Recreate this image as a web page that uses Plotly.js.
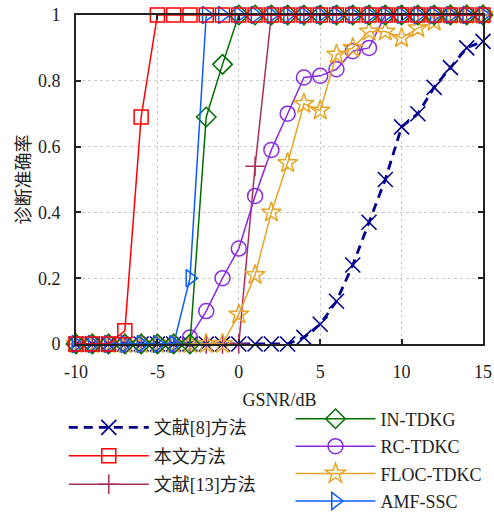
<!DOCTYPE html>
<html><head><meta charset="utf-8">
<script src="https://cdn.plot.ly/plotly-3.0.1.min.js"></script>
<style>body{margin:0;padding:0;background:#fff}#chart{width:494px;height:513px}</style>
</head><body><div id="chart"></div>
<script>
const gsnr = [-10,-9,-8,-7,-6,-5,-4,-3,-2,-1,0,1,2,3,4,5,6,7,8,9,10,11,12,13,14,15];
const ref8 = [0,0,0,0,0,0,0,0,0,0,0,0,0,0,0.02,0.06,0.13,0.24,0.37,0.50,0.66,0.70,0.78,0.84,0.90,0.92];
const ours = [0,0,0,0.04,0.69,1,1,1,1,1,1,1,1,1,1,1,1,1,1,1,1,1,1,1,1,1];
const ref13 = [0,0,0,0,0,0,0,0,0,0,0,0.54,1,1,1,1,1,1,1,1,1,1,1,1,1,1];
const inTdkg = [0,0,0,0,0,0,0,0,0.69,0.85,1,1,1,1,1,1,1,1,1,1,1,1,1,1,1,1];
const rcTdkc = [0,0,0,0,0,0,0,0.02,0.10,0.20,0.29,0.45,0.59,0.70,0.81,0.815,0.835,0.89,0.90,1,1,1,1,1,1,1];
const flocTdkc = [0,0,0,0,0,0,0,0,0,0,0.09,0.21,0.40,0.55,0.73,0.71,0.88,0.90,0.95,0.95,0.93,0.96,0.98,1,1,1];
const amfSsc = [0,0,0,0,0,0,0,0.20,1,1,1,1,1,1,1,1,1,1,1,1,1,1,1,1,1,1];
const seriesNames = ['文献[8]方法','本文方法','文献[13]方法','IN-TDKG','RC-TDKC','FLOC-TDKC','AMF-SSC'];
const xTickVals = [-10,-5,0,5,10,15];
const xTickText = ['-10','-5','0','5','10','15'];
const yTickVals = [0,0.2,0.4,0.6,0.8,1];
const yTickText = ['0','0.2','0.4','0.6','0.8','1'];

function tr(y, name, color, symbol, size, opts) {
  opts = opts || {};
  return Object.assign({
    x: gsnr, y: y, name: name, legendgroup: name, type: 'scatter', mode: 'lines+markers', cliponaxis: false,
    line: {color: color, width: opts.lw || 1.5, dash: opts.dash || 'solid'},
    marker: {symbol: symbol, size: size, color: color, line: {color: color, width: opts.mw || 1.5}}
  }, opts.extra || {});
}
const traces = [
  tr(ref8, seriesNames[0], '#00008B', 'x-thin-open', 15, {lw: 2.8, dash: '9px,6px', mw: 1.6, extra: {legend: 'legend', legendrank: 1}}),
  tr(ref13, seriesNames[2], '#A8305E', 'cross-thin-open', 14, {extra: {legend: 'legend', legendrank: 3}}),
  tr(rcTdkc, seriesNames[4], '#8A2BE2', 'circle-open', 15, {extra: {legend: 'legend2', legendrank: 5}}),
  tr(flocTdkc, seriesNames[5], '#E6A526', 'star-open', 15, {extra: {legend: 'legend2', legendrank: 6}}),
  tr(inTdkg, seriesNames[3], '#007000', 'diamond-open', 15, {extra: {legend: 'legend2', legendrank: 4}}),
  tr(amfSsc, seriesNames[6], '#0A5CFF', 'triangle-right-open', 15, {extra: {legend: 'legend2', legendrank: 7}}),
  tr(ours, seriesNames[1], '#FF0000', 'square-open', 14, {extra: {legend: 'legend', legendrank: 2}})
];
const fontFam = '"Liberation Serif", "Times New Roman", "Noto Sans CJK SC", serif';
const layout = {
  width: 494, height: 513,
  margin: {l: 76, r: 11, t: 15, b: 169, autoexpand: false},
  paper_bgcolor: '#fff', plot_bgcolor: '#fff',
  font: {family: fontFam, size: 18, color: '#222'},
  showlegend: true,
  xaxis: {
    range: [-10, 15], tickmode: 'array', tickvals: xTickVals, ticktext: xTickText,
    showline: true, linecolor: '#222', linewidth: 2, mirror: 'ticks',
    ticks: 'inside', ticklen: 5, tickwidth: 2, tickcolor: '#222',
    showgrid: true, gridcolor: '#cccccc', griddash: 'dot', gridwidth: 1,
    zeroline: false, tickfont: {size: 18}, ticklabelstandoff: 10,
    title: {text: 'GSNR/dB', font: {size: 18}, standoff: 13}
  },
  yaxis: {
    range: [0, 1], tickmode: 'array', tickvals: yTickVals, ticktext: yTickText,
    showline: true, linecolor: '#222', linewidth: 2, mirror: 'ticks',
    ticks: 'inside', ticklen: 5, tickwidth: 2, tickcolor: '#222',
    showgrid: true, gridcolor: '#cccccc', griddash: 'dot', gridwidth: 1,
    zeroline: false, tickfont: {size: 18}, ticklabelstandoff: 10,
    title: {text: '诊断准确率', font: {size: 18, family: '"Noto Sans CJK SC", sans-serif'}, standoff: 3}
  },
  legend: {
    x: -0.03, y: -0.198, xanchor: 'left', yanchor: 'top', orientation: 'v',
    bgcolor: 'rgba(0,0,0,0)', itemwidth: 80, tracegroupgap: 2, traceorder: 'grouped',
    font: {size: 18, family: '"Liberation Serif", "Noto Sans CJK SC", serif'}
  },
  legend2: {
    x: 0.527, y: -0.172, xanchor: 'left', yanchor: 'top', orientation: 'v',
    bgcolor: 'rgba(0,0,0,0)', itemwidth: 80, tracegroupgap: 1, traceorder: 'grouped',
    font: {size: 18, family: '"Liberation Serif", "Noto Sans CJK SC", serif'}
  }
};
Plotly.newPlot('chart', traces, layout, {displayModeBar: false, staticPlot: true});
</script></body></html>
